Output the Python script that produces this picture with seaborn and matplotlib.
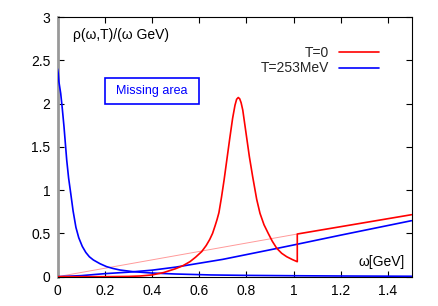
import matplotlib
matplotlib.use('Agg')
import matplotlib.pyplot as plt
import seaborn as sns
from matplotlib.patches import Rectangle

# T=0: rho peak, then jump onto the continuum above threshold
red_x = [0.0, 0.2, 0.3, 0.35, 0.4, 0.45, 0.5, 0.53, 0.561, 0.585, 0.611, 0.63,
         0.645, 0.657, 0.668, 0.676, 0.684, 0.695, 0.706, 0.718, 0.73, 0.742,
         0.752, 0.759, 0.766, 0.772, 0.778, 0.785, 0.797, 0.813, 0.827, 0.844,
         0.858, 0.875, 0.893, 0.91, 0.929, 0.95, 0.971, 0.995, 1.016, 1.016, 1.5]
red_y = [0.0, 0.0, 0.003, 0.008, 0.02, 0.048, 0.092, 0.125, 0.173, 0.225, 0.29, 0.36,
         0.43, 0.50, 0.59, 0.66, 0.74, 0.92, 1.12, 1.36, 1.60, 1.83,
         1.98, 2.05, 2.07, 2.055, 2.01, 1.925, 1.694, 1.386, 1.155, 0.894,
         0.732, 0.60, 0.50, 0.41, 0.328, 0.27, 0.231, 0.198, 0.173, 0.493, 0.716]

# T=0 continuum below threshold (thin line)
vac_x = [0.0, 1.016]
vac_y = [0.0, 0.493]

# T=253MeV: transport peak at small omega
tp_x = [0.0, 0.003, 0.006, 0.0135, 0.02, 0.0275, 0.039, 0.047, 0.056, 0.066, 0.078,
        0.09, 0.105, 0.12, 0.135, 0.152, 0.18, 0.208, 0.235, 0.265, 0.32, 0.4,
        0.5, 0.65, 0.8, 1.0, 1.2, 1.5]
tp_y = [2.40, 2.35, 2.25, 2.118, 1.95, 1.733, 1.348, 1.14, 0.963, 0.76, 0.57,
        0.45, 0.35, 0.28, 0.23, 0.193, 0.15, 0.116, 0.095, 0.077, 0.058, 0.042,
        0.031, 0.02, 0.015, 0.011, 0.008, 0.005]

# T=253MeV: continuum
cont_x = [0.0, 0.1, 0.2, 0.3, 0.4, 0.5, 0.6, 0.7, 0.8, 0.9, 1.0, 1.2, 1.5]
cont_y = [0.0, 0.012, 0.035, 0.052, 0.075, 0.11, 0.155, 0.20, 0.255, 0.31, 0.366,
          0.48, 0.647]

x_ticks = [0, 0.2, 0.4, 0.6, 0.8, 1.0, 1.2, 1.4]
x_labels = ['0', '0.2', '0.4', '0.6', '0.8', '1', '1.2', '1.4']
y_ticks = [0, 0.5, 1.0, 1.5, 2.0, 2.5, 3.0]
y_labels = ['0', '0.5', '1', '1.5', '2', '2.5', '3']

sns.set_theme(style='white')
plt.rcParams['font.family'] = ['Liberation Sans', 'DejaVu Sans']

fig = plt.figure(figsize=(4.38, 3.06), dpi=100)
ax = fig.add_axes([0.1313, 0.0958, 0.8082, 0.8486])

sns.lineplot(x=vac_x, y=vac_y, ax=ax, color='#ff9a9a', linewidth=0.7,
             estimator=None, sort=False, zorder=3)
sns.lineplot(x=tp_x, y=tp_y, ax=ax, color='#0000ff', linewidth=1.2,
             estimator=None, sort=False, zorder=3)
sns.lineplot(x=cont_x, y=cont_y, ax=ax, color='#0000ff', linewidth=1.2,
             estimator=None, sort=False, zorder=3)
sns.lineplot(x=red_x, y=red_y, ax=ax, color='#ff0000', linewidth=1.2,
             estimator=None, sort=False, zorder=3)

ax.set_xlim(0, 1.5)
ax.set_ylim(0, 3)
ax.set_xticks(x_ticks, x_labels)
ax.set_yticks(y_ticks, y_labels)
ax.set_xlabel('')
ax.set_ylabel('')
ax.tick_params(direction='in', length=4, width=0.8, top=True, right=True,
               bottom=True, left=True, labelsize=10, colors='black',
               labelcolor='black', pad=5)

for side in ['top', 'right', 'bottom']:
    ax.spines[side].set_color('black')
    ax.spines[side].set_linewidth(0.8)
ax.spines['left'].set_color('#999999')
ax.spines['left'].set_linewidth(2)

# legend, gnuplot style: label right-aligned, sample line after it
handles = [plt.Line2D([], [], color='#ff0000', linewidth=1.2),
           plt.Line2D([], [], color='#0000ff', linewidth=1.2)]
ax.legend(handles, ['T=0', 'T=253MeV'], loc='upper right',
          bbox_to_anchor=(0.909, 0.888), frameon=False, markerfirst=False,
          fontsize=10, handlelength=2.9, handletextpad=0.7, labelspacing=0.1,
          borderpad=0, borderaxespad=0)

ax.text(0.066, 2.79, 'ρ(ω,T)/(ω GeV)', fontsize=10, color='black',
        ha='left', va='center')
ax.text(1.472, 0.164, 'ω[GeV]', fontsize=10, color='black',
        ha='right', va='center')

ax.add_patch(Rectangle((0.2, 2.0), 0.4, 0.3, fill=False, edgecolor='#0000ff',
                       linewidth=1.2))
ax.text(0.4, 2.15, 'Missing area', fontsize=9, color='#0000ff',
        ha='center', va='center')

fig.savefig('out.png', dpi=100)
